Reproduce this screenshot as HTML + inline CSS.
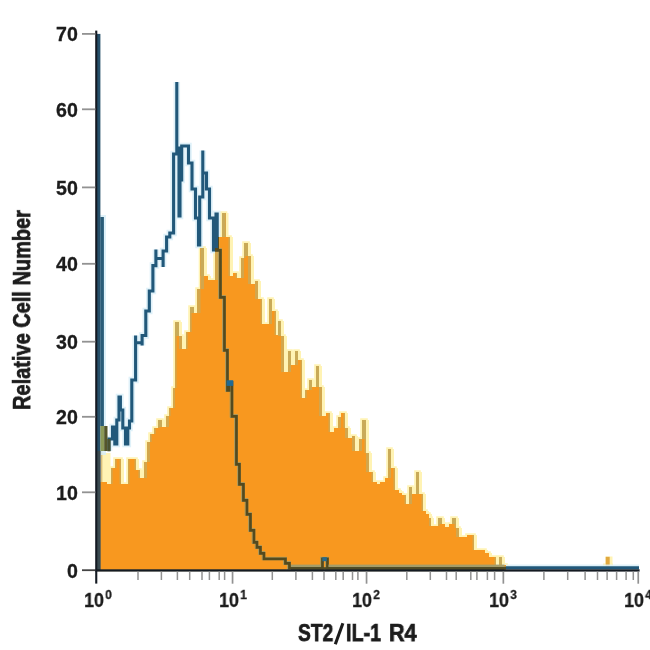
<!DOCTYPE html><html><head><meta charset="utf-8"><title>chart</title><style>

html,body{margin:0;padding:0;background:#fff;}
body{width:650px;height:650px;position:relative;overflow:hidden;font-family:"Liberation Sans",sans-serif;color:#1c1c1c;}
svg{position:absolute;left:0;top:0;}
.yl,.xl,.yt,.xt{will-change:transform;}
.yl{-webkit-text-stroke:0.3px #1c1c1c;position:absolute;right:571.8px;font-weight:bold;font-size:19.6px;line-height:20px;white-space:nowrap;transform-origin:100% 50%;transform:scaleX(1.0);}
.xl{-webkit-text-stroke:0.3px #1c1c1c;position:absolute;font-weight:bold;font-size:20px;line-height:20px;white-space:nowrap;transform-origin:0 50%;transform:scaleX(0.9);}
.xl sup{font-size:13.5px;line-height:0;position:relative;top:-0.5px;vertical-align:super;margin-left:1.2px;}
.yt{position:absolute;font-weight:bold;font-size:24px;line-height:24px;white-space:nowrap;left:22.0px;top:309.5px;-webkit-text-stroke:0.75px #1c1c1c;transform:translate(-50%,-50%) rotate(-90deg) scaleX(0.832);}
.xt{position:absolute;font-weight:bold;font-size:24px;line-height:24px;white-space:nowrap;top:620.8px;-webkit-text-stroke:0.75px #1c1c1c;transform-origin:0 50%;}

</style></head><body>
<svg width="650" height="650" viewBox="0 0 650 650">
<rect width="650" height="650" fill="#fff"/>
<defs><clipPath id="oc"><path d="M100.3,569.5 L100.3,482.0 L104.0,482.0 L104.0,482.0 L107.0,482.0 L107.0,484.0 L111.0,484.0 L111.0,468.0 L115.0,468.0 L115.0,459.0 L121.0,459.0 L121.0,484.0 L125.0,484.0 L125.0,484.0 L128.0,484.0 L128.0,459.0 L136.0,459.0 L136.0,470.0 L140.0,470.0 L140.0,478.0 L144.0,478.0 L144.0,462.0 L147.0,462.0 L147.0,442.0 L150.0,442.0 L150.0,434.0 L154.0,434.0 L154.0,428.0 L158.0,428.0 L158.0,420.0 L162.0,420.0 L162.0,427.0 L166.0,427.0 L166.0,416.0 L169.0,416.0 L169.0,408.0 L173.0,408.0 L173.0,388.0 L175.0,388.0 L175.0,322.0 L179.0,322.0 L179.0,336.0 L182.0,336.0 L182.0,349.0 L186.0,349.0 L186.0,332.0 L190.0,332.0 L190.0,307.0 L194.0,307.0 L194.0,313.0 L197.0,313.0 L197.0,289.0 L200.5,289.0 L200.5,248.0 L204.0,248.0 L204.0,276.0 L208.0,276.0 L208.0,280.0 L215.0,280.0 L215.0,248.0 L218.0,248.0 L218.0,237.0 L222.0,237.0 L222.0,213.0 L225.5,213.0 L225.5,237.0 L230.0,237.0 L230.0,276.0 L233.0,276.0 L233.0,273.0 L237.0,273.0 L237.0,278.0 L241.0,278.0 L241.0,258.0 L244.0,258.0 L244.0,243.0 L248.0,243.0 L248.0,256.0 L251.0,256.0 L251.0,284.0 L255.0,284.0 L255.0,281.0 L258.0,281.0 L258.0,299.0 L262.0,299.0 L262.0,324.0 L269.0,324.0 L269.0,299.0 L272.0,299.0 L272.0,311.0 L276.0,311.0 L276.0,335.0 L278.0,335.0 L278.0,321.0 L281.0,321.0 L281.0,336.0 L284.0,336.0 L284.0,372.0 L288.0,372.0 L288.0,351.0 L291.0,351.0 L291.0,365.0 L295.0,365.0 L295.0,351.0 L298.0,351.0 L298.0,360.0 L302.0,360.0 L302.0,398.0 L305.0,398.0 L305.0,390.0 L309.0,390.0 L309.0,380.0 L312.0,380.0 L312.0,387.0 L316.0,387.0 L316.0,366.0 L319.0,366.0 L319.0,387.0 L322.0,387.0 L322.0,416.0 L326.0,416.0 L326.0,413.0 L330.0,413.0 L330.0,432.0 L334.0,432.0 L334.0,428.0 L338.0,428.0 L338.0,417.0 L341.0,417.0 L341.0,413.0 L345.0,413.0 L345.0,428.0 L348.0,428.0 L348.0,438.0 L352.0,438.0 L352.0,436.0 L355.0,436.0 L355.0,451.0 L359.0,451.0 L359.0,439.0 L362.0,439.0 L362.0,420.0 L366.0,420.0 L366.0,453.0 L369.0,453.0 L369.0,472.0 L373.0,472.0 L373.0,482.0 L377.0,482.0 L377.0,484.0 L380.0,484.0 L380.0,482.0 L385.0,482.0 L385.0,478.0 L388.0,478.0 L388.0,449.0 L391.0,449.0 L391.0,468.0 L395.0,468.0 L395.0,490.0 L399.0,490.0 L399.0,493.0 L402.0,493.0 L402.0,495.0 L406.0,495.0 L406.0,504.0 L409.0,504.0 L409.0,487.0 L412.0,487.0 L412.0,494.0 L416.0,494.0 L416.0,472.0 L419.0,472.0 L419.0,494.0 L423.0,494.0 L423.0,511.0 L426.0,511.0 L426.0,514.0 L429.0,514.0 L429.0,518.0 L431.0,518.0 L431.0,526.0 L438.0,526.0 L438.0,518.0 L442.0,518.0 L442.0,524.0 L445.0,524.0 L445.0,527.0 L449.0,527.0 L449.0,524.0 L452.0,524.0 L452.0,518.0 L456.0,518.0 L456.0,528.0 L459.0,528.0 L459.0,537.0 L467.0,537.0 L467.0,535.0 L474.0,535.0 L474.0,550.0 L485.0,550.0 L485.0,553.0 L489.0,553.0 L489.0,557.0 L496.0,557.0 L496.0,565.0 L499.0,565.0 L499.0,557.0 L502.0,557.0 L502.0,565.0 L506.0,565.0 L506.0,569.5 L506.0,569.5 L506.0,569.5 Z"/></clipPath></defs>
<path d="M100.3,569.5 L100.3,482.0 L104.0,482.0 L104.0,482.0 L107.0,482.0 L107.0,484.0 L111.0,484.0 L111.0,468.0 L115.0,468.0 L115.0,459.0 L121.0,459.0 L121.0,484.0 L125.0,484.0 L125.0,484.0 L128.0,484.0 L128.0,459.0 L136.0,459.0 L136.0,470.0 L140.0,470.0 L140.0,478.0 L144.0,478.0 L144.0,462.0 L147.0,462.0 L147.0,442.0 L150.0,442.0 L150.0,434.0 L154.0,434.0 L154.0,428.0 L158.0,428.0 L158.0,420.0 L162.0,420.0 L162.0,427.0 L166.0,427.0 L166.0,416.0 L169.0,416.0 L169.0,408.0 L173.0,408.0 L173.0,388.0 L175.0,388.0 L175.0,322.0 L179.0,322.0 L179.0,336.0 L182.0,336.0 L182.0,349.0 L186.0,349.0 L186.0,332.0 L190.0,332.0 L190.0,307.0 L194.0,307.0 L194.0,313.0 L197.0,313.0 L197.0,289.0 L200.5,289.0 L200.5,248.0 L204.0,248.0 L204.0,276.0 L208.0,276.0 L208.0,280.0 L215.0,280.0 L215.0,248.0 L218.0,248.0 L218.0,237.0 L222.0,237.0 L222.0,213.0 L225.5,213.0 L225.5,237.0 L230.0,237.0 L230.0,276.0 L233.0,276.0 L233.0,273.0 L237.0,273.0 L237.0,278.0 L241.0,278.0 L241.0,258.0 L244.0,258.0 L244.0,243.0 L248.0,243.0 L248.0,256.0 L251.0,256.0 L251.0,284.0 L255.0,284.0 L255.0,281.0 L258.0,281.0 L258.0,299.0 L262.0,299.0 L262.0,324.0 L269.0,324.0 L269.0,299.0 L272.0,299.0 L272.0,311.0 L276.0,311.0 L276.0,335.0 L278.0,335.0 L278.0,321.0 L281.0,321.0 L281.0,336.0 L284.0,336.0 L284.0,372.0 L288.0,372.0 L288.0,351.0 L291.0,351.0 L291.0,365.0 L295.0,365.0 L295.0,351.0 L298.0,351.0 L298.0,360.0 L302.0,360.0 L302.0,398.0 L305.0,398.0 L305.0,390.0 L309.0,390.0 L309.0,380.0 L312.0,380.0 L312.0,387.0 L316.0,387.0 L316.0,366.0 L319.0,366.0 L319.0,387.0 L322.0,387.0 L322.0,416.0 L326.0,416.0 L326.0,413.0 L330.0,413.0 L330.0,432.0 L334.0,432.0 L334.0,428.0 L338.0,428.0 L338.0,417.0 L341.0,417.0 L341.0,413.0 L345.0,413.0 L345.0,428.0 L348.0,428.0 L348.0,438.0 L352.0,438.0 L352.0,436.0 L355.0,436.0 L355.0,451.0 L359.0,451.0 L359.0,439.0 L362.0,439.0 L362.0,420.0 L366.0,420.0 L366.0,453.0 L369.0,453.0 L369.0,472.0 L373.0,472.0 L373.0,482.0 L377.0,482.0 L377.0,484.0 L380.0,484.0 L380.0,482.0 L385.0,482.0 L385.0,478.0 L388.0,478.0 L388.0,449.0 L391.0,449.0 L391.0,468.0 L395.0,468.0 L395.0,490.0 L399.0,490.0 L399.0,493.0 L402.0,493.0 L402.0,495.0 L406.0,495.0 L406.0,504.0 L409.0,504.0 L409.0,487.0 L412.0,487.0 L412.0,494.0 L416.0,494.0 L416.0,472.0 L419.0,472.0 L419.0,494.0 L423.0,494.0 L423.0,511.0 L426.0,511.0 L426.0,514.0 L429.0,514.0 L429.0,518.0 L431.0,518.0 L431.0,526.0 L438.0,526.0 L438.0,518.0 L442.0,518.0 L442.0,524.0 L445.0,524.0 L445.0,527.0 L449.0,527.0 L449.0,524.0 L452.0,524.0 L452.0,518.0 L456.0,518.0 L456.0,528.0 L459.0,528.0 L459.0,537.0 L467.0,537.0 L467.0,535.0 L474.0,535.0 L474.0,550.0 L485.0,550.0 L485.0,553.0 L489.0,553.0 L489.0,557.0 L496.0,557.0 L496.0,565.0 L499.0,565.0 L499.0,557.0 L502.0,557.0 L502.0,565.0 L506.0,565.0 L506.0,569.5 L506.0,569.5 L506.0,569.5 Z" fill="#fff3b4" stroke="#fff3b4" stroke-width="3.6" stroke-linejoin="miter"/>
<path d="M100.3,569.5 L100.3,482.0 L104.0,482.0 L104.0,482.0 L107.0,482.0 L107.0,484.0 L111.0,484.0 L111.0,468.0 L115.0,468.0 L115.0,459.0 L121.0,459.0 L121.0,484.0 L125.0,484.0 L125.0,484.0 L128.0,484.0 L128.0,459.0 L136.0,459.0 L136.0,470.0 L140.0,470.0 L140.0,478.0 L144.0,478.0 L144.0,462.0 L147.0,462.0 L147.0,442.0 L150.0,442.0 L150.0,434.0 L154.0,434.0 L154.0,428.0 L158.0,428.0 L158.0,420.0 L162.0,420.0 L162.0,427.0 L166.0,427.0 L166.0,416.0 L169.0,416.0 L169.0,408.0 L173.0,408.0 L173.0,388.0 L175.0,388.0 L175.0,322.0 L179.0,322.0 L179.0,336.0 L182.0,336.0 L182.0,349.0 L186.0,349.0 L186.0,332.0 L190.0,332.0 L190.0,307.0 L194.0,307.0 L194.0,313.0 L197.0,313.0 L197.0,289.0 L200.5,289.0 L200.5,248.0 L204.0,248.0 L204.0,276.0 L208.0,276.0 L208.0,280.0 L215.0,280.0 L215.0,248.0 L218.0,248.0 L218.0,237.0 L222.0,237.0 L222.0,213.0 L225.5,213.0 L225.5,237.0 L230.0,237.0 L230.0,276.0 L233.0,276.0 L233.0,273.0 L237.0,273.0 L237.0,278.0 L241.0,278.0 L241.0,258.0 L244.0,258.0 L244.0,243.0 L248.0,243.0 L248.0,256.0 L251.0,256.0 L251.0,284.0 L255.0,284.0 L255.0,281.0 L258.0,281.0 L258.0,299.0 L262.0,299.0 L262.0,324.0 L269.0,324.0 L269.0,299.0 L272.0,299.0 L272.0,311.0 L276.0,311.0 L276.0,335.0 L278.0,335.0 L278.0,321.0 L281.0,321.0 L281.0,336.0 L284.0,336.0 L284.0,372.0 L288.0,372.0 L288.0,351.0 L291.0,351.0 L291.0,365.0 L295.0,365.0 L295.0,351.0 L298.0,351.0 L298.0,360.0 L302.0,360.0 L302.0,398.0 L305.0,398.0 L305.0,390.0 L309.0,390.0 L309.0,380.0 L312.0,380.0 L312.0,387.0 L316.0,387.0 L316.0,366.0 L319.0,366.0 L319.0,387.0 L322.0,387.0 L322.0,416.0 L326.0,416.0 L326.0,413.0 L330.0,413.0 L330.0,432.0 L334.0,432.0 L334.0,428.0 L338.0,428.0 L338.0,417.0 L341.0,417.0 L341.0,413.0 L345.0,413.0 L345.0,428.0 L348.0,428.0 L348.0,438.0 L352.0,438.0 L352.0,436.0 L355.0,436.0 L355.0,451.0 L359.0,451.0 L359.0,439.0 L362.0,439.0 L362.0,420.0 L366.0,420.0 L366.0,453.0 L369.0,453.0 L369.0,472.0 L373.0,472.0 L373.0,482.0 L377.0,482.0 L377.0,484.0 L380.0,484.0 L380.0,482.0 L385.0,482.0 L385.0,478.0 L388.0,478.0 L388.0,449.0 L391.0,449.0 L391.0,468.0 L395.0,468.0 L395.0,490.0 L399.0,490.0 L399.0,493.0 L402.0,493.0 L402.0,495.0 L406.0,495.0 L406.0,504.0 L409.0,504.0 L409.0,487.0 L412.0,487.0 L412.0,494.0 L416.0,494.0 L416.0,472.0 L419.0,472.0 L419.0,494.0 L423.0,494.0 L423.0,511.0 L426.0,511.0 L426.0,514.0 L429.0,514.0 L429.0,518.0 L431.0,518.0 L431.0,526.0 L438.0,526.0 L438.0,518.0 L442.0,518.0 L442.0,524.0 L445.0,524.0 L445.0,527.0 L449.0,527.0 L449.0,524.0 L452.0,524.0 L452.0,518.0 L456.0,518.0 L456.0,528.0 L459.0,528.0 L459.0,537.0 L467.0,537.0 L467.0,535.0 L474.0,535.0 L474.0,550.0 L485.0,550.0 L485.0,553.0 L489.0,553.0 L489.0,557.0 L496.0,557.0 L496.0,565.0 L499.0,565.0 L499.0,557.0 L502.0,557.0 L502.0,565.0 L506.0,565.0 L506.0,569.5 L506.0,569.5 L506.0,569.5 Z" fill="#fff3b4" transform="translate(3,0)"/>
<rect x="102" y="453" width="8.5" height="60" fill="#fff3b4"/>
<rect x="603" y="563.5" width="10" height="6" fill="#fff3b4"/>
<rect x="605.5" y="556.5" width="7" height="13" fill="#fff3b4"/>
<path d="M100.3,569.5 L100.3,482.0 L104.0,482.0 L104.0,482.0 L107.0,482.0 L107.0,484.0 L111.0,484.0 L111.0,468.0 L115.0,468.0 L115.0,459.0 L121.0,459.0 L121.0,484.0 L125.0,484.0 L125.0,484.0 L128.0,484.0 L128.0,459.0 L136.0,459.0 L136.0,470.0 L140.0,470.0 L140.0,478.0 L144.0,478.0 L144.0,462.0 L147.0,462.0 L147.0,442.0 L150.0,442.0 L150.0,434.0 L154.0,434.0 L154.0,428.0 L158.0,428.0 L158.0,420.0 L162.0,420.0 L162.0,427.0 L166.0,427.0 L166.0,416.0 L169.0,416.0 L169.0,408.0 L173.0,408.0 L173.0,388.0 L175.0,388.0 L175.0,322.0 L179.0,322.0 L179.0,336.0 L182.0,336.0 L182.0,349.0 L186.0,349.0 L186.0,332.0 L190.0,332.0 L190.0,307.0 L194.0,307.0 L194.0,313.0 L197.0,313.0 L197.0,289.0 L200.5,289.0 L200.5,248.0 L204.0,248.0 L204.0,276.0 L208.0,276.0 L208.0,280.0 L215.0,280.0 L215.0,248.0 L218.0,248.0 L218.0,237.0 L222.0,237.0 L222.0,213.0 L225.5,213.0 L225.5,237.0 L230.0,237.0 L230.0,276.0 L233.0,276.0 L233.0,273.0 L237.0,273.0 L237.0,278.0 L241.0,278.0 L241.0,258.0 L244.0,258.0 L244.0,243.0 L248.0,243.0 L248.0,256.0 L251.0,256.0 L251.0,284.0 L255.0,284.0 L255.0,281.0 L258.0,281.0 L258.0,299.0 L262.0,299.0 L262.0,324.0 L269.0,324.0 L269.0,299.0 L272.0,299.0 L272.0,311.0 L276.0,311.0 L276.0,335.0 L278.0,335.0 L278.0,321.0 L281.0,321.0 L281.0,336.0 L284.0,336.0 L284.0,372.0 L288.0,372.0 L288.0,351.0 L291.0,351.0 L291.0,365.0 L295.0,365.0 L295.0,351.0 L298.0,351.0 L298.0,360.0 L302.0,360.0 L302.0,398.0 L305.0,398.0 L305.0,390.0 L309.0,390.0 L309.0,380.0 L312.0,380.0 L312.0,387.0 L316.0,387.0 L316.0,366.0 L319.0,366.0 L319.0,387.0 L322.0,387.0 L322.0,416.0 L326.0,416.0 L326.0,413.0 L330.0,413.0 L330.0,432.0 L334.0,432.0 L334.0,428.0 L338.0,428.0 L338.0,417.0 L341.0,417.0 L341.0,413.0 L345.0,413.0 L345.0,428.0 L348.0,428.0 L348.0,438.0 L352.0,438.0 L352.0,436.0 L355.0,436.0 L355.0,451.0 L359.0,451.0 L359.0,439.0 L362.0,439.0 L362.0,420.0 L366.0,420.0 L366.0,453.0 L369.0,453.0 L369.0,472.0 L373.0,472.0 L373.0,482.0 L377.0,482.0 L377.0,484.0 L380.0,484.0 L380.0,482.0 L385.0,482.0 L385.0,478.0 L388.0,478.0 L388.0,449.0 L391.0,449.0 L391.0,468.0 L395.0,468.0 L395.0,490.0 L399.0,490.0 L399.0,493.0 L402.0,493.0 L402.0,495.0 L406.0,495.0 L406.0,504.0 L409.0,504.0 L409.0,487.0 L412.0,487.0 L412.0,494.0 L416.0,494.0 L416.0,472.0 L419.0,472.0 L419.0,494.0 L423.0,494.0 L423.0,511.0 L426.0,511.0 L426.0,514.0 L429.0,514.0 L429.0,518.0 L431.0,518.0 L431.0,526.0 L438.0,526.0 L438.0,518.0 L442.0,518.0 L442.0,524.0 L445.0,524.0 L445.0,527.0 L449.0,527.0 L449.0,524.0 L452.0,524.0 L452.0,518.0 L456.0,518.0 L456.0,528.0 L459.0,528.0 L459.0,537.0 L467.0,537.0 L467.0,535.0 L474.0,535.0 L474.0,550.0 L485.0,550.0 L485.0,553.0 L489.0,553.0 L489.0,557.0 L496.0,557.0 L496.0,565.0 L499.0,565.0 L499.0,557.0 L502.0,557.0 L502.0,565.0 L506.0,565.0 L506.0,569.5 L506.0,569.5 L506.0,569.5 Z" fill="#f8981f"/>
<rect x="605.7" y="556.8" width="4" height="13" fill="#e0a840"/>
<rect x="111.0" y="468.0" width="1.6" height="16.0" fill="#c9aa58" opacity="0.8"/>
<rect x="115.0" y="459.0" width="1.6" height="9.0" fill="#c9aa58" opacity="0.8"/>
<rect x="119.5" y="459.0" width="1.5" height="25.0" fill="#c9aa58" opacity="0.8"/>
<rect x="128.0" y="459.0" width="1.6" height="25.0" fill="#c9aa58" opacity="0.8"/>
<rect x="134.5" y="459.0" width="1.5" height="11.0" fill="#c9aa58" opacity="0.8"/>
<rect x="138.5" y="470.0" width="1.5" height="8.0" fill="#c9aa58" opacity="0.8"/>
<rect x="144.0" y="462.0" width="3.0" height="16.0" fill="#c9aa58" opacity="0.8"/>
<rect x="147.0" y="442.0" width="3.0" height="20.0" fill="#c9aa58" opacity="0.8"/>
<rect x="150.0" y="434.0" width="1.6" height="8.0" fill="#c9aa58" opacity="0.8"/>
<rect x="154.0" y="428.0" width="1.6" height="6.0" fill="#c9aa58" opacity="0.8"/>
<rect x="158.0" y="420.0" width="1.6" height="8.0" fill="#c9aa58" opacity="0.8"/>
<rect x="160.5" y="420.0" width="1.5" height="7.0" fill="#c9aa58" opacity="0.8"/>
<rect x="166.0" y="416.0" width="3.0" height="11.0" fill="#c9aa58" opacity="0.8"/>
<rect x="169.0" y="408.0" width="1.6" height="8.0" fill="#c9aa58" opacity="0.8"/>
<rect x="173.0" y="388.0" width="2.0" height="20.0" fill="#c9aa58" opacity="0.8"/>
<rect x="175.0" y="322.0" width="1.6" height="66.0" fill="#c9aa58" opacity="0.8"/>
<rect x="177.5" y="322.0" width="1.5" height="14.0" fill="#c9aa58" opacity="0.8"/>
<rect x="179.0" y="336.0" width="3.0" height="13.0" fill="#c9aa58" opacity="0.8"/>
<rect x="186.0" y="332.0" width="1.6" height="17.0" fill="#c9aa58" opacity="0.8"/>
<rect x="190.0" y="307.0" width="1.6" height="25.0" fill="#c9aa58" opacity="0.8"/>
<rect x="192.5" y="307.0" width="1.5" height="6.0" fill="#c9aa58" opacity="0.8"/>
<rect x="197.0" y="289.0" width="3.5" height="24.0" fill="#c9aa58" opacity="0.8"/>
<rect x="200.5" y="248.0" width="3.5" height="41.0" fill="#c9aa58" opacity="0.8"/>
<rect x="200.5" y="248.0" width="3.5" height="28.0" fill="#c9aa58" opacity="0.8"/>
<rect x="215.0" y="248.0" width="3.0" height="32.0" fill="#c9aa58" opacity="0.8"/>
<rect x="218.0" y="237.0" width="1.6" height="11.0" fill="#c9aa58" opacity="0.8"/>
<rect x="222.0" y="213.0" width="3.5" height="24.0" fill="#c9aa58" opacity="0.8"/>
<rect x="222.0" y="213.0" width="3.5" height="24.0" fill="#c9aa58" opacity="0.8"/>
<rect x="228.5" y="237.0" width="1.5" height="39.0" fill="#c9aa58" opacity="0.8"/>
<rect x="235.5" y="273.0" width="1.5" height="5.0" fill="#c9aa58" opacity="0.8"/>
<rect x="241.0" y="258.0" width="3.0" height="20.0" fill="#c9aa58" opacity="0.8"/>
<rect x="244.0" y="243.0" width="1.6" height="15.0" fill="#c9aa58" opacity="0.8"/>
<rect x="246.5" y="243.0" width="1.5" height="13.0" fill="#c9aa58" opacity="0.8"/>
<rect x="248.0" y="256.0" width="3.0" height="28.0" fill="#c9aa58" opacity="0.8"/>
<rect x="255.0" y="281.0" width="3.0" height="18.0" fill="#c9aa58" opacity="0.8"/>
<rect x="260.5" y="299.0" width="1.5" height="25.0" fill="#c9aa58" opacity="0.8"/>
<rect x="269.0" y="299.0" width="3.0" height="25.0" fill="#c9aa58" opacity="0.8"/>
<rect x="269.0" y="299.0" width="3.0" height="12.0" fill="#c9aa58" opacity="0.8"/>
<rect x="274.5" y="311.0" width="1.5" height="24.0" fill="#c9aa58" opacity="0.8"/>
<rect x="278.0" y="321.0" width="3.0" height="14.0" fill="#c9aa58" opacity="0.8"/>
<rect x="278.0" y="321.0" width="3.0" height="15.0" fill="#c9aa58" opacity="0.8"/>
<rect x="281.0" y="336.0" width="3.0" height="36.0" fill="#c9aa58" opacity="0.8"/>
<rect x="288.0" y="351.0" width="3.0" height="21.0" fill="#c9aa58" opacity="0.8"/>
<rect x="288.0" y="351.0" width="3.0" height="14.0" fill="#c9aa58" opacity="0.8"/>
<rect x="295.0" y="351.0" width="3.0" height="14.0" fill="#c9aa58" opacity="0.8"/>
<rect x="295.0" y="351.0" width="3.0" height="9.0" fill="#c9aa58" opacity="0.8"/>
<rect x="300.5" y="360.0" width="1.5" height="38.0" fill="#c9aa58" opacity="0.8"/>
<rect x="305.0" y="390.0" width="1.6" height="8.0" fill="#c9aa58" opacity="0.8"/>
<rect x="309.0" y="380.0" width="3.0" height="10.0" fill="#c9aa58" opacity="0.8"/>
<rect x="309.0" y="380.0" width="3.0" height="7.0" fill="#c9aa58" opacity="0.8"/>
<rect x="316.0" y="366.0" width="3.0" height="21.0" fill="#c9aa58" opacity="0.8"/>
<rect x="316.0" y="366.0" width="3.0" height="21.0" fill="#c9aa58" opacity="0.8"/>
<rect x="319.0" y="387.0" width="3.0" height="29.0" fill="#c9aa58" opacity="0.8"/>
<rect x="328.5" y="413.0" width="1.5" height="19.0" fill="#c9aa58" opacity="0.8"/>
<rect x="338.0" y="417.0" width="3.0" height="11.0" fill="#c9aa58" opacity="0.8"/>
<rect x="343.5" y="413.0" width="1.5" height="15.0" fill="#c9aa58" opacity="0.8"/>
<rect x="345.0" y="428.0" width="3.0" height="10.0" fill="#c9aa58" opacity="0.8"/>
<rect x="352.0" y="436.0" width="3.0" height="15.0" fill="#c9aa58" opacity="0.8"/>
<rect x="359.0" y="439.0" width="3.0" height="12.0" fill="#c9aa58" opacity="0.8"/>
<rect x="362.0" y="420.0" width="1.6" height="19.0" fill="#c9aa58" opacity="0.8"/>
<rect x="364.5" y="420.0" width="1.5" height="33.0" fill="#c9aa58" opacity="0.8"/>
<rect x="366.0" y="453.0" width="3.0" height="19.0" fill="#c9aa58" opacity="0.8"/>
<rect x="371.5" y="472.0" width="1.5" height="10.0" fill="#c9aa58" opacity="0.8"/>
<rect x="388.0" y="449.0" width="3.0" height="29.0" fill="#c9aa58" opacity="0.8"/>
<rect x="388.0" y="449.0" width="3.0" height="19.0" fill="#c9aa58" opacity="0.8"/>
<rect x="393.5" y="468.0" width="1.5" height="22.0" fill="#c9aa58" opacity="0.8"/>
<rect x="404.5" y="495.0" width="1.5" height="9.0" fill="#c9aa58" opacity="0.8"/>
<rect x="409.0" y="487.0" width="3.0" height="17.0" fill="#c9aa58" opacity="0.8"/>
<rect x="409.0" y="487.0" width="3.0" height="7.0" fill="#c9aa58" opacity="0.8"/>
<rect x="416.0" y="472.0" width="3.0" height="22.0" fill="#c9aa58" opacity="0.8"/>
<rect x="416.0" y="472.0" width="3.0" height="22.0" fill="#c9aa58" opacity="0.8"/>
<rect x="421.5" y="494.0" width="1.5" height="17.0" fill="#c9aa58" opacity="0.8"/>
<rect x="429.0" y="518.0" width="2.0" height="8.0" fill="#c9aa58" opacity="0.8"/>
<rect x="438.0" y="518.0" width="1.6" height="8.0" fill="#c9aa58" opacity="0.8"/>
<rect x="440.5" y="518.0" width="1.5" height="6.0" fill="#c9aa58" opacity="0.8"/>
<rect x="452.0" y="518.0" width="1.6" height="6.0" fill="#c9aa58" opacity="0.8"/>
<rect x="454.5" y="518.0" width="1.5" height="10.0" fill="#c9aa58" opacity="0.8"/>
<rect x="456.0" y="528.0" width="3.0" height="9.0" fill="#c9aa58" opacity="0.8"/>
<rect x="472.5" y="535.0" width="1.5" height="15.0" fill="#c9aa58" opacity="0.8"/>
<rect x="494.5" y="557.0" width="1.5" height="8.0" fill="#c9aa58" opacity="0.8"/>
<rect x="499.0" y="557.0" width="3.0" height="8.0" fill="#c9aa58" opacity="0.8"/>
<rect x="499.0" y="557.0" width="3.0" height="8.0" fill="#c9aa58" opacity="0.8"/>
<rect x="158.0" y="420.0" width="4.0" height="7.0" fill="#c9aa58"/>
<rect x="175.0" y="322.0" width="4.0" height="14.0" fill="#c9aa58"/>
<rect x="190.0" y="307.0" width="4.0" height="6.0" fill="#c9aa58"/>
<rect x="200.5" y="248.0" width="3.5" height="28.0" fill="#c9aa58"/>
<rect x="222.0" y="213.0" width="3.5" height="24.0" fill="#c9aa58"/>
<rect x="244.0" y="243.0" width="4.0" height="13.0" fill="#c9aa58"/>
<rect x="269.0" y="299.0" width="3.0" height="12.0" fill="#c9aa58"/>
<rect x="278.0" y="321.0" width="3.0" height="14.0" fill="#c9aa58"/>
<rect x="288.0" y="351.0" width="3.0" height="14.0" fill="#c9aa58"/>
<rect x="295.0" y="351.0" width="3.0" height="9.0" fill="#c9aa58"/>
<rect x="309.0" y="380.0" width="3.0" height="7.0" fill="#c9aa58"/>
<rect x="316.0" y="366.0" width="3.0" height="21.0" fill="#c9aa58"/>
<rect x="362.0" y="420.0" width="4.0" height="19.0" fill="#c9aa58"/>
<rect x="388.0" y="449.0" width="3.0" height="19.0" fill="#c9aa58"/>
<rect x="409.0" y="487.0" width="3.0" height="7.0" fill="#c9aa58"/>
<rect x="416.0" y="472.0" width="3.0" height="22.0" fill="#c9aa58"/>
<rect x="438.0" y="518.0" width="4.0" height="6.0" fill="#c9aa58"/>
<rect x="452.0" y="518.0" width="4.0" height="6.0" fill="#c9aa58"/>
<rect x="499.0" y="557.0" width="3.0" height="8.0" fill="#c9aa58"/>
<rect x="100.6" y="451" width="1.8" height="32" fill="#d9bf7a"/>
<path d="M109.0,451.0 L109.0,439.0 L112.5,439.0 L112.5,427.0 L114.8,427.0 L114.8,444.0 L116.8,444.0 L116.8,420.0 L119.0,420.0 L119.0,397.0 L120.4,397.0 L120.4,410.0 L122.8,410.0 L122.8,428.0 L125.5,428.0 L125.5,444.0 L127.8,444.0 L127.8,428.0 L129.5,428.0 L129.5,421.0 L131.8,421.0 L131.8,380.0 L135.6,380.0 L135.6,335.5 L135.6,342.7 L142.1,342.7 L142.1,345.5 L142.1,335.5 L145.8,335.5 L145.8,311.0 L149.3,311.0 L149.3,291.0 L152.9,291.0 L152.9,265.6 L155.9,265.6 L155.9,249.5 L155.9,258.5 L163.1,258.5 L163.1,267.0 L163.1,251.0 L166.6,251.0 L166.6,237.0 L169.8,237.0 L169.8,233.0 L173.6,233.0 L173.6,154.0 L176.8,154.0 L176.8,82.0 L176.8,148.0 L179.0,148.0 L179.0,216.0 L180.0,216.0 L180.0,180.0 L181.7,180.0 L181.7,146.0 L188.5,146.0 L188.5,163.0 L192.0,163.0 L192.0,189.0 L195.5,189.0 L195.5,218.0 L198.5,218.0 L198.5,245.0 L199.7,245.0 L199.7,197.0 L202.8,197.0 L202.8,150.5 L202.8,173.0 L206.5,173.0 L206.5,189.0 L209.5,189.0 L209.5,218.0 L213.5,218.0 L213.5,250.0 L216.0,250.0 L216.0,214.0 L217.2,214.0 L217.2,250.0 L220.0,250.0 L220.0,297.0 L224.0,297.0 L224.0,350.0 L227.0,350.0 L227.0,390.0 L228.5,390.0 L228.5,382.0 L231.5,382.0 L231.5,416.0 L236.0,416.0 L236.0,464.0 L239.0,464.0 L239.0,484.0 L243.0,484.0 L243.0,500.0 L246.5,500.0 L246.5,514.0 L250.0,514.0 L250.0,530.0 L253.5,530.0 L253.5,542.0 L256.5,542.0 L256.5,547.0 L260.0,547.0 L260.0,553.0 L263.5,553.0 L263.5,558.5 L285.0,558.5 L285.0,563.0 L289.0,563.0 L289.0,567.7 L322.0,567.7 L322.0,558.5 L327.0,558.5 L327.0,567.7 L639.0,567.7" fill="none" stroke="#d9eef8" stroke-width="6.5" opacity="0.85"/>
<rect x="97" y="215" width="9" height="240" fill="#d6edf7" opacity="0.8"/>
<g clip-path="url(#oc)"><rect x="95" y="200" width="420" height="372" fill="#f8981f"/>
<rect x="111.0" y="468.0" width="1.6" height="16.0" fill="#c9aa58" opacity="0.8"/>
<rect x="115.0" y="459.0" width="1.6" height="9.0" fill="#c9aa58" opacity="0.8"/>
<rect x="119.5" y="459.0" width="1.5" height="25.0" fill="#c9aa58" opacity="0.8"/>
<rect x="128.0" y="459.0" width="1.6" height="25.0" fill="#c9aa58" opacity="0.8"/>
<rect x="134.5" y="459.0" width="1.5" height="11.0" fill="#c9aa58" opacity="0.8"/>
<rect x="138.5" y="470.0" width="1.5" height="8.0" fill="#c9aa58" opacity="0.8"/>
<rect x="144.0" y="462.0" width="3.0" height="16.0" fill="#c9aa58" opacity="0.8"/>
<rect x="147.0" y="442.0" width="3.0" height="20.0" fill="#c9aa58" opacity="0.8"/>
<rect x="150.0" y="434.0" width="1.6" height="8.0" fill="#c9aa58" opacity="0.8"/>
<rect x="154.0" y="428.0" width="1.6" height="6.0" fill="#c9aa58" opacity="0.8"/>
<rect x="158.0" y="420.0" width="1.6" height="8.0" fill="#c9aa58" opacity="0.8"/>
<rect x="160.5" y="420.0" width="1.5" height="7.0" fill="#c9aa58" opacity="0.8"/>
<rect x="166.0" y="416.0" width="3.0" height="11.0" fill="#c9aa58" opacity="0.8"/>
<rect x="169.0" y="408.0" width="1.6" height="8.0" fill="#c9aa58" opacity="0.8"/>
<rect x="173.0" y="388.0" width="2.0" height="20.0" fill="#c9aa58" opacity="0.8"/>
<rect x="175.0" y="322.0" width="1.6" height="66.0" fill="#c9aa58" opacity="0.8"/>
<rect x="177.5" y="322.0" width="1.5" height="14.0" fill="#c9aa58" opacity="0.8"/>
<rect x="179.0" y="336.0" width="3.0" height="13.0" fill="#c9aa58" opacity="0.8"/>
<rect x="186.0" y="332.0" width="1.6" height="17.0" fill="#c9aa58" opacity="0.8"/>
<rect x="190.0" y="307.0" width="1.6" height="25.0" fill="#c9aa58" opacity="0.8"/>
<rect x="192.5" y="307.0" width="1.5" height="6.0" fill="#c9aa58" opacity="0.8"/>
<rect x="197.0" y="289.0" width="3.5" height="24.0" fill="#c9aa58" opacity="0.8"/>
<rect x="200.5" y="248.0" width="3.5" height="41.0" fill="#c9aa58" opacity="0.8"/>
<rect x="200.5" y="248.0" width="3.5" height="28.0" fill="#c9aa58" opacity="0.8"/>
<rect x="215.0" y="248.0" width="3.0" height="32.0" fill="#c9aa58" opacity="0.8"/>
<rect x="218.0" y="237.0" width="1.6" height="11.0" fill="#c9aa58" opacity="0.8"/>
<rect x="222.0" y="213.0" width="3.5" height="24.0" fill="#c9aa58" opacity="0.8"/>
<rect x="222.0" y="213.0" width="3.5" height="24.0" fill="#c9aa58" opacity="0.8"/>
<rect x="228.5" y="237.0" width="1.5" height="39.0" fill="#c9aa58" opacity="0.8"/>
<rect x="235.5" y="273.0" width="1.5" height="5.0" fill="#c9aa58" opacity="0.8"/>
<rect x="241.0" y="258.0" width="3.0" height="20.0" fill="#c9aa58" opacity="0.8"/>
<rect x="244.0" y="243.0" width="1.6" height="15.0" fill="#c9aa58" opacity="0.8"/>
<rect x="246.5" y="243.0" width="1.5" height="13.0" fill="#c9aa58" opacity="0.8"/>
<rect x="248.0" y="256.0" width="3.0" height="28.0" fill="#c9aa58" opacity="0.8"/>
<rect x="255.0" y="281.0" width="3.0" height="18.0" fill="#c9aa58" opacity="0.8"/>
<rect x="260.5" y="299.0" width="1.5" height="25.0" fill="#c9aa58" opacity="0.8"/>
<rect x="269.0" y="299.0" width="3.0" height="25.0" fill="#c9aa58" opacity="0.8"/>
<rect x="269.0" y="299.0" width="3.0" height="12.0" fill="#c9aa58" opacity="0.8"/>
<rect x="274.5" y="311.0" width="1.5" height="24.0" fill="#c9aa58" opacity="0.8"/>
<rect x="278.0" y="321.0" width="3.0" height="14.0" fill="#c9aa58" opacity="0.8"/>
<rect x="278.0" y="321.0" width="3.0" height="15.0" fill="#c9aa58" opacity="0.8"/>
<rect x="281.0" y="336.0" width="3.0" height="36.0" fill="#c9aa58" opacity="0.8"/>
<rect x="288.0" y="351.0" width="3.0" height="21.0" fill="#c9aa58" opacity="0.8"/>
<rect x="288.0" y="351.0" width="3.0" height="14.0" fill="#c9aa58" opacity="0.8"/>
<rect x="295.0" y="351.0" width="3.0" height="14.0" fill="#c9aa58" opacity="0.8"/>
<rect x="295.0" y="351.0" width="3.0" height="9.0" fill="#c9aa58" opacity="0.8"/>
<rect x="300.5" y="360.0" width="1.5" height="38.0" fill="#c9aa58" opacity="0.8"/>
<rect x="305.0" y="390.0" width="1.6" height="8.0" fill="#c9aa58" opacity="0.8"/>
<rect x="309.0" y="380.0" width="3.0" height="10.0" fill="#c9aa58" opacity="0.8"/>
<rect x="309.0" y="380.0" width="3.0" height="7.0" fill="#c9aa58" opacity="0.8"/>
<rect x="316.0" y="366.0" width="3.0" height="21.0" fill="#c9aa58" opacity="0.8"/>
<rect x="316.0" y="366.0" width="3.0" height="21.0" fill="#c9aa58" opacity="0.8"/>
<rect x="319.0" y="387.0" width="3.0" height="29.0" fill="#c9aa58" opacity="0.8"/>
<rect x="328.5" y="413.0" width="1.5" height="19.0" fill="#c9aa58" opacity="0.8"/>
<rect x="338.0" y="417.0" width="3.0" height="11.0" fill="#c9aa58" opacity="0.8"/>
<rect x="343.5" y="413.0" width="1.5" height="15.0" fill="#c9aa58" opacity="0.8"/>
<rect x="345.0" y="428.0" width="3.0" height="10.0" fill="#c9aa58" opacity="0.8"/>
<rect x="352.0" y="436.0" width="3.0" height="15.0" fill="#c9aa58" opacity="0.8"/>
<rect x="359.0" y="439.0" width="3.0" height="12.0" fill="#c9aa58" opacity="0.8"/>
<rect x="362.0" y="420.0" width="1.6" height="19.0" fill="#c9aa58" opacity="0.8"/>
<rect x="364.5" y="420.0" width="1.5" height="33.0" fill="#c9aa58" opacity="0.8"/>
<rect x="366.0" y="453.0" width="3.0" height="19.0" fill="#c9aa58" opacity="0.8"/>
<rect x="371.5" y="472.0" width="1.5" height="10.0" fill="#c9aa58" opacity="0.8"/>
<rect x="388.0" y="449.0" width="3.0" height="29.0" fill="#c9aa58" opacity="0.8"/>
<rect x="388.0" y="449.0" width="3.0" height="19.0" fill="#c9aa58" opacity="0.8"/>
<rect x="393.5" y="468.0" width="1.5" height="22.0" fill="#c9aa58" opacity="0.8"/>
<rect x="404.5" y="495.0" width="1.5" height="9.0" fill="#c9aa58" opacity="0.8"/>
<rect x="409.0" y="487.0" width="3.0" height="17.0" fill="#c9aa58" opacity="0.8"/>
<rect x="409.0" y="487.0" width="3.0" height="7.0" fill="#c9aa58" opacity="0.8"/>
<rect x="416.0" y="472.0" width="3.0" height="22.0" fill="#c9aa58" opacity="0.8"/>
<rect x="416.0" y="472.0" width="3.0" height="22.0" fill="#c9aa58" opacity="0.8"/>
<rect x="421.5" y="494.0" width="1.5" height="17.0" fill="#c9aa58" opacity="0.8"/>
<rect x="429.0" y="518.0" width="2.0" height="8.0" fill="#c9aa58" opacity="0.8"/>
<rect x="438.0" y="518.0" width="1.6" height="8.0" fill="#c9aa58" opacity="0.8"/>
<rect x="440.5" y="518.0" width="1.5" height="6.0" fill="#c9aa58" opacity="0.8"/>
<rect x="452.0" y="518.0" width="1.6" height="6.0" fill="#c9aa58" opacity="0.8"/>
<rect x="454.5" y="518.0" width="1.5" height="10.0" fill="#c9aa58" opacity="0.8"/>
<rect x="456.0" y="528.0" width="3.0" height="9.0" fill="#c9aa58" opacity="0.8"/>
<rect x="472.5" y="535.0" width="1.5" height="15.0" fill="#c9aa58" opacity="0.8"/>
<rect x="494.5" y="557.0" width="1.5" height="8.0" fill="#c9aa58" opacity="0.8"/>
<rect x="499.0" y="557.0" width="3.0" height="8.0" fill="#c9aa58" opacity="0.8"/>
<rect x="499.0" y="557.0" width="3.0" height="8.0" fill="#c9aa58" opacity="0.8"/>
<rect x="158.0" y="420.0" width="4.0" height="7.0" fill="#c9aa58"/>
<rect x="175.0" y="322.0" width="4.0" height="14.0" fill="#c9aa58"/>
<rect x="190.0" y="307.0" width="4.0" height="6.0" fill="#c9aa58"/>
<rect x="200.5" y="248.0" width="3.5" height="28.0" fill="#c9aa58"/>
<rect x="222.0" y="213.0" width="3.5" height="24.0" fill="#c9aa58"/>
<rect x="244.0" y="243.0" width="4.0" height="13.0" fill="#c9aa58"/>
<rect x="269.0" y="299.0" width="3.0" height="12.0" fill="#c9aa58"/>
<rect x="278.0" y="321.0" width="3.0" height="14.0" fill="#c9aa58"/>
<rect x="288.0" y="351.0" width="3.0" height="14.0" fill="#c9aa58"/>
<rect x="295.0" y="351.0" width="3.0" height="9.0" fill="#c9aa58"/>
<rect x="309.0" y="380.0" width="3.0" height="7.0" fill="#c9aa58"/>
<rect x="316.0" y="366.0" width="3.0" height="21.0" fill="#c9aa58"/>
<rect x="362.0" y="420.0" width="4.0" height="19.0" fill="#c9aa58"/>
<rect x="388.0" y="449.0" width="3.0" height="19.0" fill="#c9aa58"/>
<rect x="409.0" y="487.0" width="3.0" height="7.0" fill="#c9aa58"/>
<rect x="416.0" y="472.0" width="3.0" height="22.0" fill="#c9aa58"/>
<rect x="438.0" y="518.0" width="4.0" height="6.0" fill="#c9aa58"/>
<rect x="452.0" y="518.0" width="4.0" height="6.0" fill="#c9aa58"/>
<rect x="499.0" y="557.0" width="3.0" height="8.0" fill="#c9aa58"/>
</g>
<path d="M109.0,451.0 L109.0,439.0 L112.5,439.0 L112.5,427.0 L114.8,427.0 L114.8,444.0 L116.8,444.0 L116.8,420.0 L119.0,420.0 L119.0,397.0 L120.4,397.0 L120.4,410.0 L122.8,410.0 L122.8,428.0 L125.5,428.0 L125.5,444.0 L127.8,444.0 L127.8,428.0 L129.5,428.0 L129.5,421.0 L131.8,421.0 L131.8,380.0 L135.6,380.0 L135.6,335.5 L135.6,342.7 L142.1,342.7 L142.1,345.5 L142.1,335.5 L145.8,335.5 L145.8,311.0 L149.3,311.0 L149.3,291.0 L152.9,291.0 L152.9,265.6 L155.9,265.6 L155.9,249.5 L155.9,258.5 L163.1,258.5 L163.1,267.0 L163.1,251.0 L166.6,251.0 L166.6,237.0 L169.8,237.0 L169.8,233.0 L173.6,233.0 L173.6,154.0 L176.8,154.0 L176.8,82.0 L176.8,148.0 L179.0,148.0 L179.0,216.0 L180.0,216.0 L180.0,180.0 L181.7,180.0 L181.7,146.0 L188.5,146.0 L188.5,163.0 L192.0,163.0 L192.0,189.0 L195.5,189.0 L195.5,218.0 L198.5,218.0 L198.5,245.0 L199.7,245.0 L199.7,197.0 L202.8,197.0 L202.8,150.5 L202.8,173.0 L206.5,173.0 L206.5,189.0 L209.5,189.0 L209.5,218.0 L213.5,218.0 L213.5,250.0 L216.0,250.0 L216.0,214.0 L217.2,214.0 L217.2,250.0 L220.0,250.0 L220.0,297.0 L224.0,297.0 L224.0,350.0 L227.0,350.0 L227.0,390.0 L228.5,390.0 L228.5,382.0 L231.5,382.0 L231.5,416.0 L236.0,416.0 L236.0,464.0 L239.0,464.0 L239.0,484.0 L243.0,484.0 L243.0,500.0 L246.5,500.0 L246.5,514.0 L250.0,514.0 L250.0,530.0 L253.5,530.0 L253.5,542.0 L256.5,542.0 L256.5,547.0 L260.0,547.0 L260.0,553.0 L263.5,553.0 L263.5,558.5 L285.0,558.5 L285.0,563.0 L289.0,563.0 L289.0,567.7 L322.0,567.7 L322.0,558.5 L327.0,558.5 L327.0,567.7 L639.0,567.7" fill="none" stroke="#21587a" stroke-width="3.1" stroke-linejoin="miter"/>
<g clip-path="url(#oc)"><path d="M109.0,451.0 L109.0,439.0 L112.5,439.0 L112.5,427.0 L114.8,427.0 L114.8,444.0 L116.8,444.0 L116.8,420.0 L119.0,420.0 L119.0,397.0 L120.4,397.0 L120.4,410.0 L122.8,410.0 L122.8,428.0 L125.5,428.0 L125.5,444.0 L127.8,444.0 L127.8,428.0 L129.5,428.0 L129.5,421.0 L131.8,421.0 L131.8,380.0 L135.6,380.0 L135.6,335.5 L135.6,342.7 L142.1,342.7 L142.1,345.5 L142.1,335.5 L145.8,335.5 L145.8,311.0 L149.3,311.0 L149.3,291.0 L152.9,291.0 L152.9,265.6 L155.9,265.6 L155.9,249.5 L155.9,258.5 L163.1,258.5 L163.1,267.0 L163.1,251.0 L166.6,251.0 L166.6,237.0 L169.8,237.0 L169.8,233.0 L173.6,233.0 L173.6,154.0 L176.8,154.0 L176.8,82.0 L176.8,148.0 L179.0,148.0 L179.0,216.0 L180.0,216.0 L180.0,180.0 L181.7,180.0 L181.7,146.0 L188.5,146.0 L188.5,163.0 L192.0,163.0 L192.0,189.0 L195.5,189.0 L195.5,218.0 L198.5,218.0 L198.5,245.0 L199.7,245.0 L199.7,197.0 L202.8,197.0 L202.8,150.5 L202.8,173.0 L206.5,173.0 L206.5,189.0 L209.5,189.0 L209.5,218.0 L213.5,218.0 L213.5,250.0 L216.0,250.0 L216.0,214.0 L217.2,214.0 L217.2,250.0 L220.0,250.0 L220.0,297.0 L224.0,297.0 L224.0,350.0 L227.0,350.0 L227.0,390.0 L228.5,390.0 L228.5,382.0 L231.5,382.0 L231.5,416.0 L236.0,416.0 L236.0,464.0 L239.0,464.0 L239.0,484.0 L243.0,484.0 L243.0,500.0 L246.5,500.0 L246.5,514.0 L250.0,514.0 L250.0,530.0 L253.5,530.0 L253.5,542.0 L256.5,542.0 L256.5,547.0 L260.0,547.0 L260.0,553.0 L263.5,553.0 L263.5,558.5 L285.0,558.5 L285.0,563.0 L289.0,563.0 L289.0,567.7 L322.0,567.7 L322.0,558.5 L327.0,558.5 L327.0,567.7 L639.0,567.7" fill="none" stroke="#b9a35e" stroke-width="3.6" stroke-linejoin="miter"/>
<path d="M109.0,451.0 L109.0,439.0 L112.5,439.0 L112.5,427.0 L114.8,427.0 L114.8,444.0 L116.8,444.0 L116.8,420.0 L119.0,420.0 L119.0,397.0 L120.4,397.0 L120.4,410.0 L122.8,410.0 L122.8,428.0 L125.5,428.0 L125.5,444.0 L127.8,444.0 L127.8,428.0 L129.5,428.0 L129.5,421.0 L131.8,421.0 L131.8,380.0 L135.6,380.0 L135.6,335.5 L135.6,342.7 L142.1,342.7 L142.1,345.5 L142.1,335.5 L145.8,335.5 L145.8,311.0 L149.3,311.0 L149.3,291.0 L152.9,291.0 L152.9,265.6 L155.9,265.6 L155.9,249.5 L155.9,258.5 L163.1,258.5 L163.1,267.0 L163.1,251.0 L166.6,251.0 L166.6,237.0 L169.8,237.0 L169.8,233.0 L173.6,233.0 L173.6,154.0 L176.8,154.0 L176.8,82.0 L176.8,148.0 L179.0,148.0 L179.0,216.0 L180.0,216.0 L180.0,180.0 L181.7,180.0 L181.7,146.0 L188.5,146.0 L188.5,163.0 L192.0,163.0 L192.0,189.0 L195.5,189.0 L195.5,218.0 L198.5,218.0 L198.5,245.0 L199.7,245.0 L199.7,197.0 L202.8,197.0 L202.8,150.5 L202.8,173.0 L206.5,173.0 L206.5,189.0 L209.5,189.0 L209.5,218.0 L213.5,218.0 L213.5,250.0 L216.0,250.0 L216.0,214.0 L217.2,214.0 L217.2,250.0 L220.0,250.0 L220.0,297.0 L224.0,297.0 L224.0,350.0 L227.0,350.0 L227.0,390.0 L228.5,390.0 L228.5,382.0 L231.5,382.0 L231.5,416.0 L236.0,416.0 L236.0,464.0 L239.0,464.0 L239.0,484.0 L243.0,484.0 L243.0,500.0 L246.5,500.0 L246.5,514.0 L250.0,514.0 L250.0,530.0 L253.5,530.0 L253.5,542.0 L256.5,542.0 L256.5,547.0 L260.0,547.0 L260.0,553.0 L263.5,553.0 L263.5,558.5 L285.0,558.5 L285.0,563.0 L289.0,563.0 L289.0,567.7 L322.0,567.7 L322.0,558.5 L327.0,558.5 L327.0,567.7 L639.0,567.7" fill="none" stroke="#544a1e" stroke-width="2.7" stroke-linejoin="miter" transform="translate(0.45,0.4)"/></g>
<rect x="291" y="564.6" width="30" height="2.6" fill="#a59c68"/>
<rect x="328.5" y="564.6" width="176" height="2.6" fill="#a59c68"/>
<rect x="291" y="567.2" width="213.5" height="2.4" fill="#4f4a24"/>
<rect x="226.6" y="380.3" width="6.6" height="5.6" fill="#1f6a94"/>
<rect x="322.3" y="557.2" width="4.6" height="4" fill="#2a6a8a"/>
<rect x="97" y="33.9" width="3.4" height="536" fill="#26506a"/>
<rect x="97" y="451" width="3.4" height="119" fill="#3a4a50"/>
<rect x="100.3" y="217" width="3.6" height="209" fill="#2a5c78"/>
<rect x="100.4" y="426" width="3.8" height="25" fill="#8c9a58"/>
<rect x="104.2" y="426" width="3.3" height="25" fill="#55562a"/>
<rect x="107.4" y="439" width="3.1" height="12.3" fill="#4a5230"/>
<rect x="95.2" y="30.6" width="2.1" height="553" fill="#141a22"/>
<rect x="95.2" y="569.3" width="544.4" height="2.3" fill="#141a22"/>
<rect x="82" y="569.30" width="13.3" height="1.8" fill="#444"/>
<rect x="82" y="491.40" width="13.3" height="1.8" fill="#929292"/>
<rect x="82" y="415.90" width="13.3" height="1.8" fill="#929292"/>
<rect x="82" y="340.80" width="13.3" height="1.8" fill="#929292"/>
<rect x="82" y="262.90" width="13.3" height="1.8" fill="#929292"/>
<rect x="82" y="186.50" width="13.3" height="1.8" fill="#929292"/>
<rect x="82" y="108.40" width="13.3" height="1.8" fill="#929292"/>
<rect x="82" y="33.00" width="13.3" height="1.8" fill="#929292"/>
<rect x="137.25" y="571.6" width="1.5" height="8.4" fill="#929292"/>
<rect x="160.65" y="571.6" width="1.5" height="8.4" fill="#929292"/>
<rect x="176.65" y="571.6" width="1.5" height="8.4" fill="#929292"/>
<rect x="188.95" y="571.6" width="1.5" height="8.4" fill="#929292"/>
<rect x="201.25" y="571.6" width="1.5" height="8.4" fill="#929292"/>
<rect x="208.65" y="571.6" width="1.5" height="8.4" fill="#929292"/>
<rect x="218.45" y="571.6" width="1.5" height="8.4" fill="#929292"/>
<rect x="223.85" y="571.6" width="1.5" height="8.4" fill="#929292"/>
<rect x="271.55" y="571.6" width="1.5" height="8.4" fill="#929292"/>
<rect x="295.15" y="571.6" width="1.5" height="8.4" fill="#929292"/>
<rect x="311.65" y="571.6" width="1.5" height="8.4" fill="#929292"/>
<rect x="323.25" y="571.6" width="1.5" height="8.4" fill="#929292"/>
<rect x="335.05" y="571.6" width="1.5" height="8.4" fill="#929292"/>
<rect x="342.45" y="571.6" width="1.5" height="8.4" fill="#929292"/>
<rect x="351.75" y="571.6" width="1.5" height="8.4" fill="#929292"/>
<rect x="357.15" y="571.6" width="1.5" height="8.4" fill="#929292"/>
<rect x="406.05" y="571.6" width="1.5" height="8.4" fill="#929292"/>
<rect x="429.55" y="571.6" width="1.5" height="8.4" fill="#929292"/>
<rect x="445.75" y="571.6" width="1.5" height="8.4" fill="#929292"/>
<rect x="455.45" y="571.6" width="1.5" height="8.4" fill="#929292"/>
<rect x="470.05" y="571.6" width="1.5" height="8.4" fill="#929292"/>
<rect x="476.15" y="571.6" width="1.5" height="8.4" fill="#929292"/>
<rect x="486.65" y="571.6" width="1.5" height="8.4" fill="#929292"/>
<rect x="493.85" y="571.6" width="1.5" height="8.4" fill="#929292"/>
<rect x="543.15" y="571.6" width="1.5" height="8.4" fill="#929292"/>
<rect x="566.95" y="571.6" width="1.5" height="8.4" fill="#929292"/>
<rect x="584.35" y="571.6" width="1.5" height="8.4" fill="#929292"/>
<rect x="596.75" y="571.6" width="1.5" height="8.4" fill="#929292"/>
<rect x="606.35" y="571.6" width="1.5" height="8.4" fill="#929292"/>
<rect x="615.85" y="571.6" width="1.5" height="8.4" fill="#929292"/>
<rect x="625.35" y="571.6" width="1.5" height="8.4" fill="#929292"/>
<rect x="632.55" y="571.6" width="1.5" height="8.4" fill="#929292"/>
<rect x="231.70" y="571.6" width="1.7" height="12.1" fill="#929292"/>
<rect x="365.70" y="571.6" width="1.7" height="12.1" fill="#929292"/>
<rect x="502.50" y="571.6" width="1.7" height="12.1" fill="#929292"/>
<rect x="637.40" y="571.6" width="1.7" height="12.1" fill="#929292"/>
<line x1="335.3" y1="644.3" x2="342.9" y2="623.2" stroke="#1c1c1c" stroke-width="3.1"/>
</svg>
<div class="yl" style="top:560.5px">0</div>
<div class="yl" style="top:482.6px">10</div>
<div class="yl" style="top:407.1px">20</div>
<div class="yl" style="top:332.0px">30</div>
<div class="yl" style="top:254.1px">40</div>
<div class="yl" style="top:177.7px">50</div>
<div class="yl" style="top:99.6px">60</div>
<div class="yl" style="top:24.2px">70</div>
<div class="xl" style="left:84.0px;top:589.9px">10<sup>0</sup></div>
<div class="xl" style="left:219.0px;top:589.9px">10<sup>1</sup></div>
<div class="xl" style="left:352.1px;top:589.9px">10<sup>2</sup></div>
<div class="xl" style="left:489.4px;top:589.9px">10<sup>3</sup></div>
<div class="xl" style="left:624.3px;top:589.9px">10<sup>4</sup></div>
<div class="yt">Relative Cell Number</div>
<div class="xt" style="left:298.2px;transform:scaleX(0.8)">ST2</div>
<div class="xt" style="left:345.9px;transform:scaleX(0.825)">IL-1</div>
<div class="xt" style="left:388.8px;transform:scaleX(0.9)">R4</div>
</body></html>
